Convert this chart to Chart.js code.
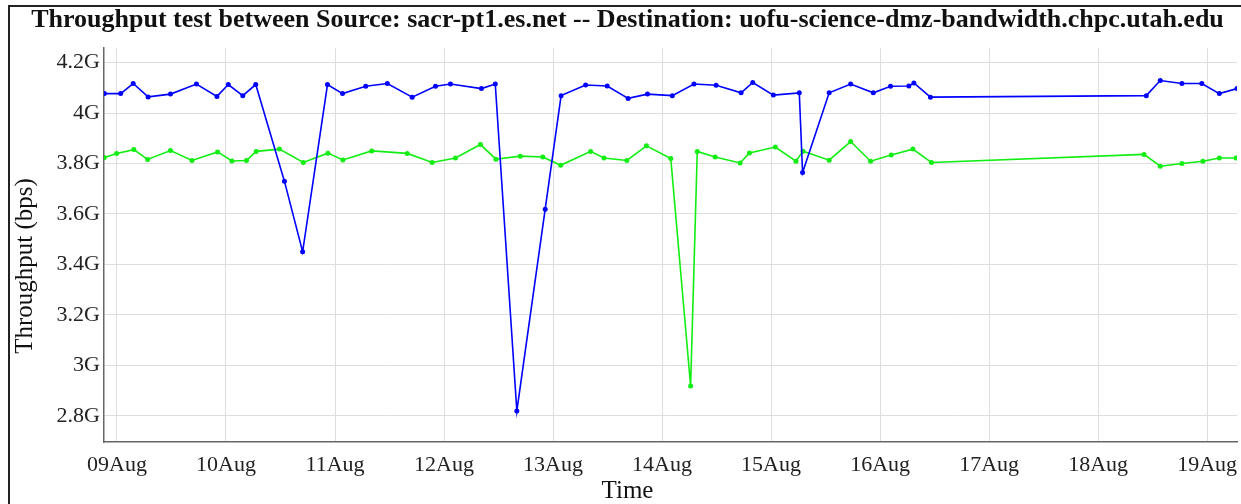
<!DOCTYPE html>
<html>
<head>
<meta charset="utf-8">
<script src="https://cdn.jsdelivr.net/npm/chart.js@4.4.1/dist/chart.umd.min.js"></script>
<style>
  html, body { margin:0; padding:0; background:#fff; overflow:hidden; }
  #wrap { position:relative; width:1241px; height:504px; }
  #frame { position:absolute; left:8px; top:5px; right:-10px; bottom:-10px;
           border-left:2px solid #222; border-top:2px solid #222; pointer-events:none; }
</style>
</head>
<body>
<div id="wrap">
  <canvas id="c" width="1241" height="504"></canvas>
  <div id="frame"></div>
</div>
<script>
'use strict';

/* ── DATA ────────────────────────────────────────────────── */
// x = days since 09Aug 00:00, y = Gbps
const DAY_LABELS = ['09Aug','10Aug','11Aug','12Aug','13Aug','14Aug','15Aug','16Aug','17Aug','18Aug','19Aug'];
const Y_TICKS = [2.8, 3.0, 3.2, 3.4, 3.6, 3.8, 4.0, 4.2];

const BLUE_DAYS = [-0.116, 0.034, 0.149, 0.286, 0.491, 0.729, 0.917, 1.021, 1.154, 1.273,
  1.536, 1.703, 1.931, 2.069, 2.282, 2.480, 2.708, 2.922, 3.059, 3.343,
  3.470, 3.668, 3.928, 4.074, 4.299, 4.497, 4.689, 4.866, 5.094, 5.293,
  5.496, 5.725, 5.832, 6.021, 6.259, 6.289, 6.533, 6.730, 6.938, 7.096,
  7.264, 7.310, 7.462, 9.442, 9.570, 9.769, 9.951, 10.112, 10.274];
const BLUE_VALS = [4.077, 4.077, 4.117, 4.064, 4.075, 4.115, 4.066, 4.113, 4.069, 4.113,
  3.730, 3.450, 4.113, 4.077, 4.106, 4.117, 4.063, 4.106, 4.115, 4.097,
  4.115, 2.819, 3.619, 4.069, 4.111, 4.107, 4.058, 4.075, 4.069, 4.115,
  4.110, 4.080, 4.121, 4.071, 4.080, 3.764, 4.080, 4.115, 4.080, 4.106,
  4.107, 4.119, 4.063, 4.069, 4.129, 4.117, 4.117, 4.077, 4.097];

const GREEN_DAYS = [-0.116, -0.003, 0.155, 0.281, 0.491, 0.688, 0.923, 1.054, 1.188, 1.277,
  1.490, 1.709, 1.935, 2.072, 2.337, 2.663, 2.891, 3.105, 3.334, 3.476,
  3.699, 3.906, 4.070, 4.345, 4.467, 4.677, 4.857, 5.080, 5.262, 5.323,
  5.487, 5.716, 5.802, 6.039, 6.228, 6.293, 6.533, 6.730, 6.913, 7.102,
  7.301, 7.471, 9.421, 9.570, 9.769, 9.961, 10.112, 10.265];
const GREEN_VALS = [3.824, 3.840, 3.855, 3.816, 3.851, 3.812, 3.846, 3.810, 3.812, 3.848,
  3.857, 3.804, 3.841, 3.814, 3.850, 3.840, 3.804, 3.822, 3.875, 3.817,
  3.829, 3.826, 3.793, 3.848, 3.822, 3.812, 3.870, 3.820, 2.918, 3.848,
  3.826, 3.802, 3.842, 3.865, 3.809, 3.849, 3.813, 3.887, 3.809, 3.834,
  3.857, 3.804, 3.836, 3.789, 3.800, 3.809, 3.822, 3.822];

const X_MIN = -0.119, X_MAX = 10.274;
const Y_MIN = 2.696, Y_MAX = 4.257;

/* ── HELPERS ─────────────────────────────────────────────── */
const pts = (xs, ys) => xs.map((x, i) => ({ x, y: ys[i] }));
const SERIF = "'Liberation Serif', 'Times New Roman', serif";

// rotated y axis title, placed like the original (not centred on the plot)
const yTitle = {
  id: 'yTitle',
  afterDraw(chart) {
    const ctx = chart.ctx;
    ctx.save();
    ctx.translate(25, 266);
    ctx.rotate(-Math.PI / 2);
    ctx.font = `25px ${SERIF}`;
    ctx.fillStyle = '#111';
    ctx.textAlign = 'center';
    ctx.textBaseline = 'middle';
    ctx.fillText('Throughput (bps)', 0, 0);
    ctx.restore();
  }
};

/* ── CHART ───────────────────────────────────────────────── */
Chart.defaults.font.family = SERIF;
Chart.defaults.color = '#222';

new Chart(document.getElementById('c'), {
  type: 'line',
  data: {
    datasets: [
      { label: 'blue', data: pts(BLUE_DAYS, BLUE_VALS),
        borderColor: '#0000ff', backgroundColor: '#0000ff', borderWidth: 1.6,
        pointRadius: 2.5, pointBorderWidth: 0, tension: 0 },
      { label: 'green', data: pts(GREEN_DAYS, GREEN_VALS),
        borderColor: '#11ee11', backgroundColor: '#11ee11', borderWidth: 1.6,
        pointRadius: 2.5, pointBorderWidth: 0, tension: 0 },
    ]
  },
  options: {
    responsive: false, animation: false,
    layout: { padding: { left: 14, right: 0, top: 0, bottom: 0 } },
    plugins: {
      legend: { display: false },
      tooltip: { enabled: false },
      title: {
        display: true,
        text: 'Throughput test between Source: sacr-pt1.es.net -- Destination: uofu-science-dmz-bandwidth.chpc.utah.edu',
        color: '#111', font: { size: 26, weight: 'bold', lineHeight: 1.2 },
        padding: { top: 5, bottom: 12 }
      },
      subtitle: {
        display: true, position: 'bottom', text: 'Time',
        color: '#111', font: { size: 25, lineHeight: 1 },
        padding: { top: 0, bottom: 0 }
      }
    },
    scales: {
      x: {
        type: 'linear', min: X_MIN, max: X_MAX,
        afterBuildTicks: s => { s.ticks = DAY_LABELS.map((_, i) => ({ value: i })); },
        afterFit: s => { s.height = 37; s.paddingLeft = 0; s.paddingRight = 0; },
        ticks: { callback: v => DAY_LABELS[v], font: { size: 22 }, padding: 10, maxRotation: 0, autoSkip: false },
        grid: { color: '#dedede', lineWidth: 1, drawTicks: false },
        border: { color: '#666', width: 1.5 }
      },
      y: {
        min: Y_MIN, max: Y_MAX,
        afterBuildTicks: s => { s.ticks = Y_TICKS.map(v => ({ value: v })); },
        afterFit: s => { s.width = 90; },
        ticks: { callback: v => (+v.toFixed(1)) + 'G', font: { size: 22 }, padding: 4 },
        grid: { color: '#dedede', lineWidth: 1, drawTicks: false },
        border: { color: '#666', width: 1.5 }
      }
    }
  },
  plugins: [yTitle]
});
</script>
</body>
</html>
